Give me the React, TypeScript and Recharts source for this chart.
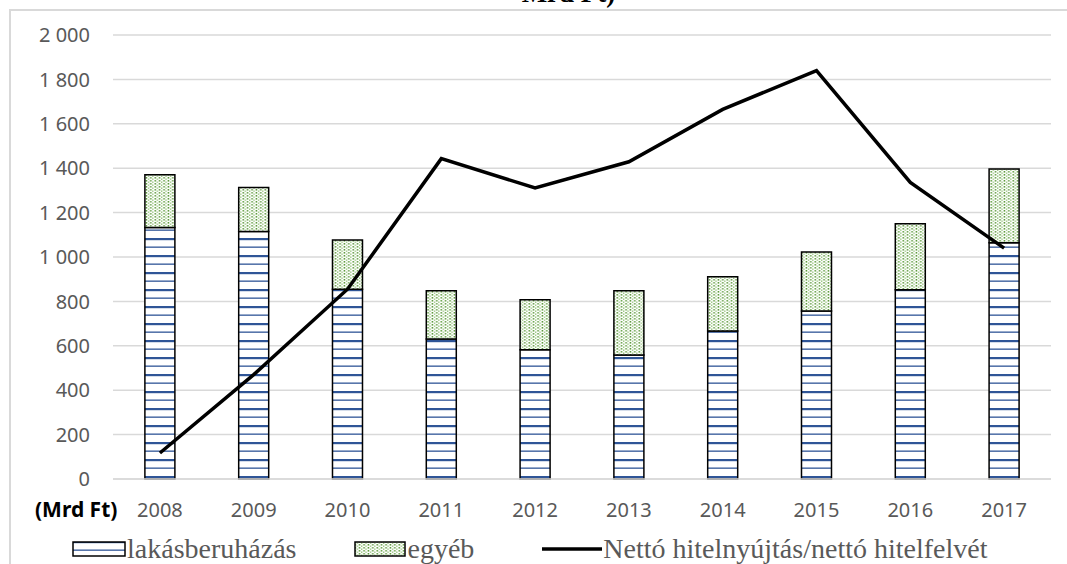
import { ComposedChart, Bar, Line, XAxis, YAxis, CartesianGrid } from 'recharts';

const years = ['2008', '2009', '2010', '2011', '2012', '2013', '2014', '2015', '2016', '2017'];
const lakasberuhazas = [1133, 1115, 855, 631, 582, 559, 667, 757, 852, 1064];
const egyeb = [238, 198, 222, 217, 225, 289, 244, 266, 298, 332];
const netto = [117, 470, 855, 1443, 1311, 1429, 1665, 1840, 1336, 1040];
const yTicks = [0, 200, 400, 600, 800, 1000, 1200, 1400, 1600, 1800, 2000];

const data = years.map((year, i) => ({
  year,
  lakas: lakasberuhazas[i],
  egyeb: egyeb[i],
  netto: netto[i],
}));

// "2 000" style thousands
const fmt = (v: number) =>
  v >= 1000 ? `${Math.floor(v / 1000)} ${String(v % 1000).padStart(3, '0')}` : String(v);

const tickStyle = { fontSize: 20, fill: '#595959', fontFamily: 'Noto Sans' };

function Patterns() {
  return (
    <svg width={0} height={0} style={{ position: 'absolute' }}>
      <defs>
        <pattern id="pLakas" width={8} height={17} patternUnits="userSpaceOnUse">
          <rect width={8} height={17} fill="#fff" />
          <rect y={0} width={8} height={2.2} fill="#2f5597" />
          <rect y={8.5} width={8} height={1.3} fill="#2f5597" />
        </pattern>
        <pattern id="pEgyeb" width={4.4} height={6} patternUnits="userSpaceOnUse">
          <rect width={4.4} height={6} fill="#fff" />
          <rect x={0.5} y={0} width={1.5} height={1.6} fill="#5e9b3c" />
          <rect x={0.5} y={3} width={1.5} height={1.6} fill="#5e9b3c" />
          <rect x={2.7} y={1.5} width={1.2} height={1.4} fill="#8cbf6e" />
          <rect x={2.7} y={4.5} width={1.2} height={1.4} fill="#8cbf6e" />
        </pattern>
      </defs>
    </svg>
  );
}

function LegendRow() {
  const text = { fontFamily: 'Liberation Serif', fontSize: 28, color: '#595959', lineHeight: '28px' };
  return (
    <div
      style={{
        position: 'absolute',
        left: 72,
        top: 535,
        display: 'flex',
        alignItems: 'center',
        whiteSpace: 'nowrap',
      }}
    >
      <svg width={54} height={16} style={{ marginRight: 1 }}>
        <rect x={1} y={1} width={52} height={14} fill="url(#pLakas)" stroke="#000" strokeWidth={1.5} />
      </svg>
      <span style={{ ...text, marginRight: 58 }}>lakásberuházás</span>
      <svg width={52} height={16} style={{ marginRight: 1 }}>
        <rect x={1} y={1} width={50} height={14} fill="url(#pEgyeb)" stroke="#000" strokeWidth={1.5} />
      </svg>
      <span style={{ ...text, marginRight: 68 }}>egyéb</span>
      <svg width={60} height={16} style={{ marginRight: 1 }}>
        <line x1={0} y1={8} x2={60} y2={8} stroke="#000" strokeWidth={3.5} />
      </svg>
      <span style={text}>Nettó hitelnyújtás/nettó hitelfelvét</span>
    </div>
  );
}

export default function App() {
  return (
    <div
      style={{
        position: 'absolute',
        left: 0,
        top: 0,
        width: 1067,
        height: 564,
        overflow: 'hidden',
        background: '#fff',
      }}
    >
      <Patterns />
      {/* chart frame */}
      <div
        style={{
          position: 'absolute',
          left: 9,
          top: 9,
          width: 1200,
          height: 700,
          border: '2px solid #d9d9d9',
        }}
      />
      {/* second line of the title, cut at the top as in the source */}
      <div
        style={{
          position: 'absolute',
          left: 0,
          width: 1137,
          top: -22,
          textAlign: 'center',
          fontFamily: 'Liberation Serif',
          fontWeight: 'bold',
          fontSize: 27,
          lineHeight: '30px',
          color: '#000',
        }}
      >
        Mrd Ft)
      </div>
      <div style={{ position: 'absolute', left: 0, top: 0 }}>
        <ComposedChart
          width={1067}
          height={564}
          data={data}
          margin={{ top: 35, right: 16, bottom: 0, left: 0 }}
          barCategoryGap="34%"
        >
          <CartesianGrid vertical={false} stroke="#d9d9d9" strokeWidth={1.5} />
          <XAxis
            dataKey="year"
            height={85}
            tick={tickStyle}
            tickLine={false}
            tickSize={0}
            tickMargin={24}
            axisLine={{ stroke: '#d9d9d9', strokeWidth: 1.5 }}
          />
          <YAxis
            width={113}
            domain={[0, 2000]}
            ticks={yTicks}
            tickFormatter={fmt}
            tick={tickStyle}
            tickLine={false}
            tickSize={0}
            tickMargin={23}
            axisLine={false}
            interval={0}
          />
          <Bar
            dataKey="lakas"
            stackId="a"
            fill="url(#pLakas)"
            stroke="#000"
            strokeWidth={1.5}
            isAnimationActive={false}
          />
          <Bar
            dataKey="egyeb"
            stackId="a"
            fill="url(#pEgyeb)"
            stroke="#000"
            strokeWidth={1.5}
            isAnimationActive={false}
          />
          <Line
            type="linear"
            dataKey="netto"
            stroke="#000"
            strokeWidth={3.5}
            dot={false}
            isAnimationActive={false}
          />
        </ComposedChart>
      </div>
      <div
        style={{
          position: 'absolute',
          left: 35,
          top: 495,
          fontFamily: 'Noto Sans',
          fontWeight: 'bold',
          fontSize: 21,
          color: '#000',
        }}
      >
        (Mrd Ft)
      </div>
      <LegendRow />
    </div>
  );
}
